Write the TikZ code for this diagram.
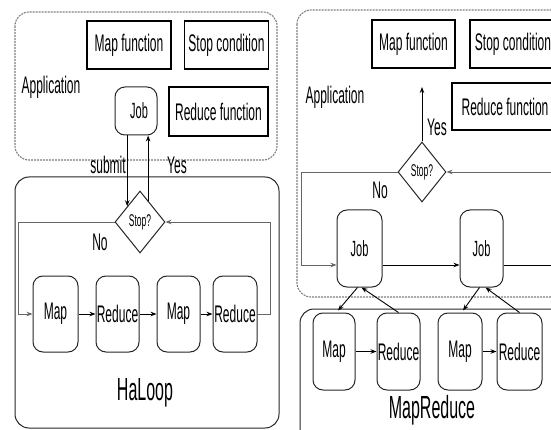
\documentclass[tikz,border=0pt]{standalone}
\usepackage{fontspec}
\setmainfont{Liberation Sans}[FakeStretch=0.5]
\usetikzlibrary{shapes.geometric,arrows.meta,calc}
\begin{document}
\begin{tikzpicture}[x=1pt,y=-1pt,
 txt/.style={font=\fontsize{24}{26}\selectfont, inner sep=0},
 bigtxt/.style={font=\fontsize{32}{34}\selectfont, inner sep=0},
 fbox/.style={draw, line width=1.1pt, inner sep=0, font=\fontsize{24}{26}\selectfont},
 rbox/.style={draw=black!85, line width=1pt, rounded corners=10pt, inner sep=0, minimum width=44, minimum height=76, font=\fontsize{24}{26}\selectfont},
 jbox/.style={rbox, font=\fontsize{22}{24}\selectfont},
 dia/.style={draw=black!85, diamond, inner sep=0, minimum width=50, minimum height=62, font=\fontsize{17}{18}\selectfont, line width=1pt},
 arr/.style={-{Stealth[length=6pt,width=4.5pt]}, line width=0.9pt},
 loopl/.style={draw=black!60, line width=1.8pt},
 dsh/.style={draw=gray, dash pattern=on 2pt off 1pt, line width=1.1pt, rounded corners=14pt},
 cont/.style={draw=black!85, line width=1pt, rounded corners=14pt}
]
\useasboundingbox (0,0) rectangle (551,430);
\clip (0,0) rectangle (551,430);

% ---------- left panel (HaLoop) ----------
\draw[dsh] (15,12) rectangle (277,160);
\draw[cont] (15,177) rectangle (279,428);
\node[fbox, minimum width=84, minimum height=48] (mf) at (129,45) {Map function};
\node[fbox, minimum width=84, minimum height=48] (sc) at (226.5,45) {Stop condition};
\node[fbox, minimum width=99, minimum height=49] (rf) at (218.5,111.5) {Reduce function};
\node[txt] (app) at (51,87) {Application};
\node[jbox, minimum width=42, minimum height=48] (job) at (136,111) {\hspace*{6pt}Job};
\node[dia] (d1) at (140,222) {Stop?};
\node[rbox, minimum width=45] (m1) at (55.5,314) {Map};
\node[rbox, minimum width=43] (r1) at (117.5,314) {Reduce};
\node[rbox, minimum width=43] (m2) at (178.5,314) {Map};
\node[rbox, minimum width=44] (r2) at (235,314) {Reduce};
\node[txt] (sub) at (108,165) {submit};
\node[txt] (yes1) at (177,165) {Yes};
\node[txt] (no1) at (100,242) {No};
\node[bigtxt] (hl) at (145,393) {HaLoop};

\draw[arr] (d1.north west |- job.south) -- (d1.north west);
\coordinate (yp) at ($(d1.north)!0.32!(d1.east)$);
\draw[arr] (yp) -- (yp |- job.south);
\draw[loopl, arr] (d1.west) -- ++(-96,0) |- (m1.west);
\draw[arr] (m1.east) -- (r1.west);
\draw[arr] (r1.east) -- (m2.west);
\draw[arr] (m2.east) -- (r2.west);
\draw[loopl, arr] (r2.east) -- ++(13,0) |- (d1.east);

% ---------- right panel (MapReduce) ----------
\draw[dsh] (297,10) rectangle (620,297);
\draw[cont] (300,309) rectangle (620,470);
\node[fbox, minimum width=83, minimum height=48] (mf2) at (413.5,44) {Map function};
\node[fbox, minimum width=86, minimum height=48] (sc2) at (513,44) {Stop condition};
\node[fbox, minimum width=106, minimum height=47] (rf2) at (505,106.5) {Reduce function};
\node[txt] (app2) at (335,97) {Application};
\node[dia, minimum width=48, minimum height=60] (d2) at (422,172) {Stop?};
\coordinate (yt) at (422,87);
\draw[arr] (d2.north) -- (yt);
\node[txt] (yes2) at (437,127) {Yes};
\node[txt] (no2) at (380,190) {No};
\node[jbox, minimum width=45, minimum height=77] (j1) at (359.5,248.5) {Job};
\node[jbox, minimum width=43, minimum height=77] (j2) at (481.5,248.5) {Job};
\coordinate (rin) at (570,172);
\coordinate (rout) at (570,265);
\draw[loopl, arr] (rin) -- (d2.east);
\draw[loopl, arr] (d2.west) -- ++(-96,0) |- ($(j1.west)+(0,16.5)$);
\draw[arr] ($(j1.east)+(0,16.5)$) -- ($(j2.west)+(0,16.5)$);
\draw[line width=0.9pt] ($(j2.east)+(0,16.5)$) -- (rout);

\node[rbox, minimum width=42, minimum height=77] (m3) at (334,351.5) {Map};
\node[rbox, minimum width=43, minimum height=77] (r3) at (398.5,351.5) {Reduce};
\node[rbox, minimum width=44, minimum height=77] (m4) at (460,351.5) {Map};
\node[rbox, minimum width=45, minimum height=77] (r4) at (519.5,351.5) {Reduce};
\node[bigtxt] (mr) at (432,410) {MapReduce};

\draw[arr] (m3.east) -- (r3.west);
\draw[arr] (m4.east) -- (r4.west);
\draw[arr] ($(j1.south)+(-2,0)$) -- ($(m3.north)+(4,-2)$);
\draw[arr] (r3.north) -- ($(j1.south)+(2,0)$);
\draw[arr] ($(j2.south)+(-2,0)$) -- ($(m4.north)+(3,-2)$);
\draw[arr] (r4.north) -- ($(j2.south)+(4,0)$);
\end{tikzpicture}
\end{document}
